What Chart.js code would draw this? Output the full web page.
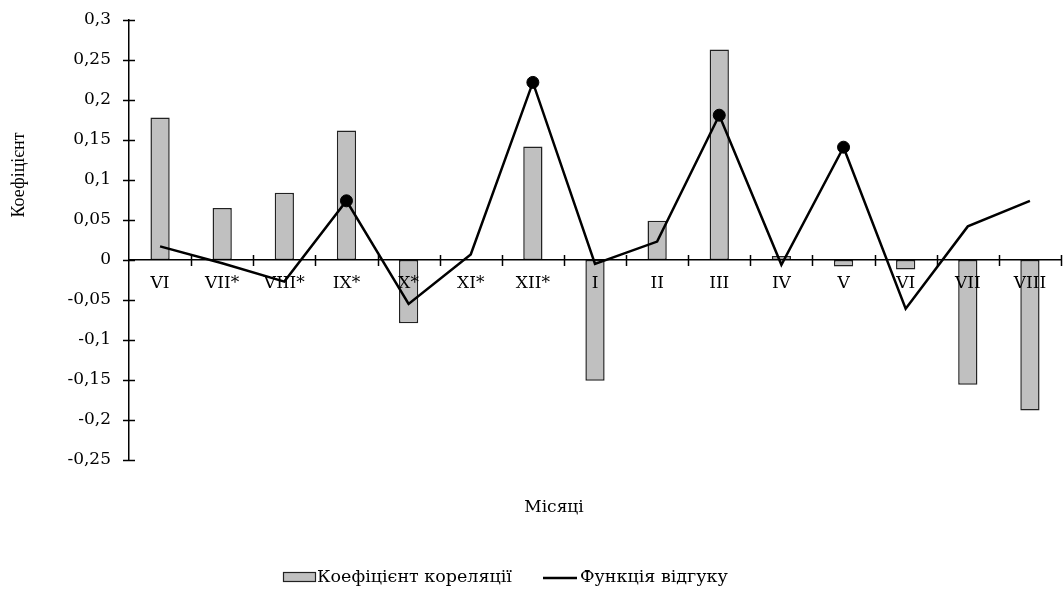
<!DOCTYPE html>
<html>
<head>
<meta charset="utf-8">
<script src="https://cdn.jsdelivr.net/npm/chart.js@4.4.0/dist/chart.umd.min.js"></script>
<style>
  html, body { margin: 0; padding: 0; background: #fff; }
</style>
</head>
<body>
<canvas id="chart" width="1063" height="589"></canvas>
<script>
// Місяці (підписи осі X)
const months = ['VI', 'VII*', 'VIII*', 'IX*', 'X*', 'XI*', 'XII*', 'I', 'II', 'III', 'IV', 'V', 'VI', 'VII', 'VIII'];
// Коефіцієнт кореляції (стовпчики)
const correlation = [0.178, 0.065, 0.084, 0.162, -0.079, 0.001, 0.142, -0.151, 0.049, 0.263, 0.005, -0.008, -0.012, -0.156, -0.188];
// Функція відгуку (лінія)
const response = [0.017, -0.004, -0.027, 0.074, -0.055, 0.007, 0.222, -0.005, 0.023, 0.181, -0.006, 0.141, -0.061, 0.042, 0.074];
// Значущі місяці, позначені точкою
const significant = [false, false, false, true, false, false, true, false, false, true, false, true, false, false, false];
// Межі та крок осі Y
const yMin = -0.25;
const yMax = 0.3;
const yStep = 0.05;

const FONT = 'DejaVu Serif, serif';          // широкий шрифт для горизонтальних підписів
const FONT_V = 'Liberation Serif, serif';    // для вертикального підпису осі
const BAR_FILL = '#c0c0c0';

// Підписи осей, засічки навхрест та легенда
const extras = {
    id: 'extras',
    afterDraw(chart) {
        const { ctx, chartArea, scales: { x, y } } = chart;
        ctx.save();
        ctx.strokeStyle = '#000';
        ctx.lineWidth = 1.5;

        // засічки на осі Y
        y.ticks.forEach((t, i) => {
            const py = Math.round(y.getPixelForTick(i)) + 0.5;
            ctx.beginPath();
            ctx.moveTo(chartArea.left - 6, py);
            ctx.lineTo(chartArea.left + 6, py);
            ctx.stroke();
        });

        // засічки на осі X (між категоріями)
        const y0 = y.getPixelForValue(0);
        const half = (x.getPixelForValue(1) - x.getPixelForValue(0)) / 2;
        for (let i = 1; i <= months.length; i++) {
            const px = Math.round(x.getPixelForValue(i - 1) + half) + 0.5;
            ctx.beginPath();
            ctx.moveTo(px, y0 - 5);
            ctx.lineTo(px, y0 + 6);
            ctx.stroke();
        }

        ctx.fillStyle = '#000';

        // назва осі Y
        ctx.save();
        ctx.font = '18px ' + FONT_V;
        ctx.translate(19, 175);
        ctx.rotate(-Math.PI / 2);
        ctx.textAlign = 'center';
        ctx.textBaseline = 'middle';
        ctx.fillText('Коефіцієнт', 0, 0);
        ctx.restore();

        // назва осі X
        ctx.font = '17px ' + FONT;
        ctx.textAlign = 'center';
        ctx.textBaseline = 'middle';
        ctx.fillText('Місяці', 554, 508);

        // легенда
        const ly = 577;
        ctx.font = '17.5px ' + FONT;
        ctx.textAlign = 'left';
        ctx.fillStyle = BAR_FILL;
        ctx.fillRect(283, ly - 4.5, 32, 9);
        ctx.lineWidth = 1.2;
        ctx.strokeStyle = '#222';
        ctx.strokeRect(283.5, ly - 4.5, 32, 9);
        ctx.fillStyle = '#000';
        ctx.fillText(chart.data.datasets[0].label, 317, ly);
        ctx.lineWidth = 2.5;
        ctx.strokeStyle = '#000';
        ctx.beginPath();
        ctx.moveTo(543, ly + 1);
        ctx.lineTo(577, ly + 1);
        ctx.stroke();
        ctx.fillText(chart.data.datasets[1].label, 580, ly);

        ctx.restore();
    }
};

var ctx = document.getElementById('chart').getContext('2d');
new Chart(ctx, {
    type: 'bar',
    data: {
        labels: months,
        datasets: [{
            label: 'Коефіцієнт кореляції',
            data: correlation,
            backgroundColor: BAR_FILL,
            borderColor: '#222',
            borderWidth: 1.5,
            borderSkipped: false,
            barPercentage: 0.31,
            categoryPercentage: 1,
            order: 2
        }, {
            type: 'line',
            label: 'Функція відгуку',
            data: response,
            borderColor: '#000',
            borderWidth: 2.5,
            tension: 0,
            fill: false,
            pointRadius: significant.map(s => s ? 6 : 0),
            pointHoverRadius: significant.map(s => s ? 6 : 0),
            pointBackgroundColor: '#000',
            pointBorderColor: '#000',
            pointBorderWidth: 1,
            order: 1
        }]
    },
    options: {
        responsive: false,
        devicePixelRatio: 1,
        animation: false,
        layout: { padding: { left: 0, top: 20, right: 2, bottom: 129 } },
        plugins: {
            legend: { display: false },
            tooltip: { enabled: false }
        },
        scales: {
            x: {
                position: { y: 0 },
                offset: true,
                grid: { display: false, drawTicks: false },
                border: { display: true, color: '#000', width: 1.5, z: 1 },
                ticks: {
                    z: 1,
                    autoSkip: false,
                    maxRotation: 0,
                    padding: 13,
                    color: '#000',
                    font: { family: FONT, size: 17 }
                }
            },
            y: {
                min: yMin,
                max: yMax,
                afterFit(scale) {
                    scale.width = 129;
                    scale.paddingTop = 0;
                    scale.paddingBottom = 0;
                },
                grid: { display: false, drawTicks: false },
                border: { display: true, color: '#000', width: 1.5 },
                ticks: {
                    stepSize: yStep,
                    padding: 18,
                    color: '#000',
                    font: { family: FONT, size: 17 },
                    callback: v => String(Number(v.toFixed(2))).replace('.', ',')
                }
            }
        }
    },
    plugins: [extras]
});
</script>
</body>
</html>
